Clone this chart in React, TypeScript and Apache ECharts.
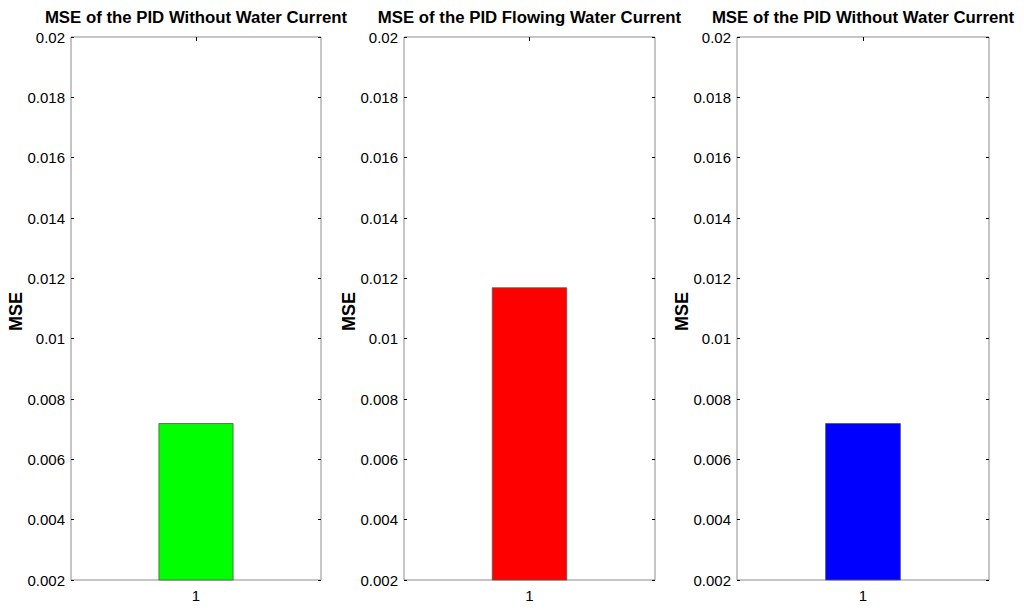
import React, { useEffect, useRef } from "react";
import * as echarts from "echarts";

const categories = ["1"];
const panelTitles = [
  "MSE of the PID Without Water Current",
  "MSE of the PID Flowing Water Current",
  "MSE of the PID Without Water Current",
];
const mseValues = [0.0072, 0.0117, 0.0072];
const barColors = ["#00ff00", "#ff0000", "#0000ff"];
const yMin = 0.002;
const yMax = 0.02;
const yStep = 0.002;
const yLabel = "MSE";

const FONT = 'Arial, "Liberation Sans", sans-serif';
const panels = [
  { left: 71, width: 250 },
  { left: 404, width: 251 },
  { left: 737, width: 252 },
];
const TOP = 37;
const HEIGHT = 543;

export default function App() {
  const ref = useRef<HTMLDivElement>(null);
  useEffect(() => {
    if (!ref.current) return;
    const chart = echarts.init(ref.current, undefined, { renderer: "svg" });
    const grid: any[] = [];
    const xAxis: any[] = [];
    const yAxis: any[] = [];
    const series: any[] = [];
    const title: any[] = [];
    const graphic: any[] = [];
    panels.forEach((p, i) => {
      grid.push({
        left: p.left,
        top: TOP,
        width: p.width,
        height: HEIGHT,
        show: true,
        borderColor: "#8c8c8c",
        borderWidth: 1,
        backgroundColor: "transparent",
      });
      title.push({
        text: panelTitles[i],
        left: p.left + p.width / 2,
        top: 9,
        padding: 0,
        textAlign: "center",
        textStyle: { fontFamily: FONT, fontSize: 16.8, fontWeight: "bold", color: "#000" },
      });
      graphic.push({
        type: "text",
        x: p.left - 55,
        y: TOP + HEIGHT / 2 + 3,
        rotation: Math.PI / 2,
        style: {
          text: yLabel,
          fontFamily: FONT,
          fontSize: 18,
          fontWeight: "bold",
          fill: "#000",
          align: "center",
          verticalAlign: "middle",
        },
      });
      xAxis.push({
        type: "category",
        gridIndex: i,
        data: categories,
        position: "bottom",
        axisLine: { show: false },
        axisTick: { show: true, inside: true, alignWithLabel: true, length: 4, lineStyle: { color: "#000" } },
        axisLabel: { fontFamily: FONT, fontSize: 15, color: "#000", margin: 8 },
        splitLine: { show: false },
      });
      xAxis.push({
        type: "category",
        gridIndex: i,
        data: categories,
        position: "top",
        axisLine: { show: false },
        axisTick: { show: true, inside: true, alignWithLabel: true, length: 4, lineStyle: { color: "#000" } },
        axisLabel: { show: false },
        splitLine: { show: false },
      });
      const yCommon = {
        type: "value",
        gridIndex: i,
        min: yMin,
        max: yMax,
        interval: yStep,
        axisLine: { show: false },
        splitLine: { show: false },
        axisTick: { show: true, inside: true, length: 3, lineStyle: { color: "#000" } },
      };
      yAxis.push({
        ...yCommon,
        position: "left",
        axisLabel: {
          fontFamily: FONT,
          fontSize: 15,
          color: "#000",
          margin: 6,
          formatter: (v: number) => String(+v.toFixed(4)),
        },
      });
      yAxis.push({
        ...yCommon,
        position: "right",
        axisLabel: { show: false },
      });
      series.push({
        type: "bar",
        xAxisIndex: i * 2,
        yAxisIndex: i * 2,
        data: [mseValues[i]],
        barWidth: "30%",
        itemStyle: { color: barColors[i], borderColor: "#555", borderWidth: 0.8 },
      });
    });
    chart.setOption({
      animation: false,
      backgroundColor: "#fff",
      title,
      grid,
      xAxis,
      yAxis,
      series,
      graphic,
    });
    return () => chart.dispose();
  }, []);
  return (
    <div
      ref={ref}
      style={{ position: "fixed", left: 0, top: 0, width: 1024, height: 611 }}
    />
  );
}
